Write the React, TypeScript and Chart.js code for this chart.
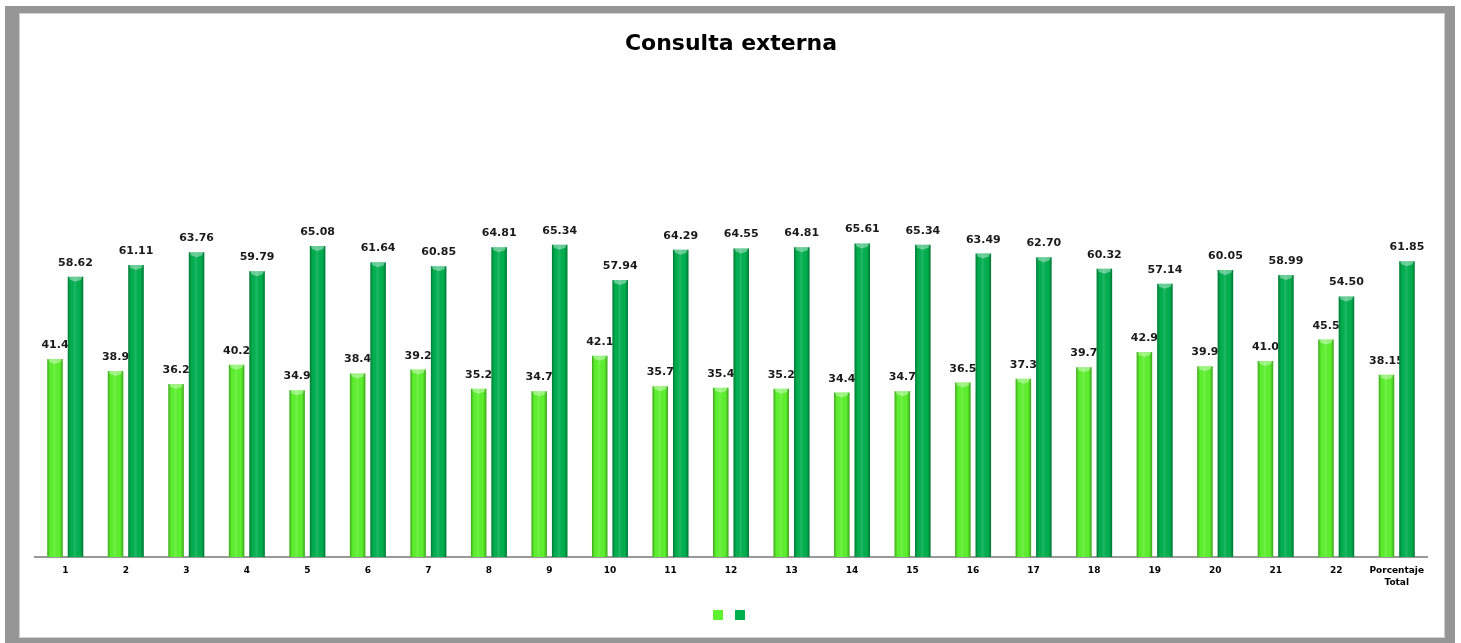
import React, { useEffect, useRef } from 'react';
import { Chart, registerables } from 'chart.js';

Chart.register(...registerables);

const titleText = 'Consulta externa';

const categories: (string | string[])[] = [
  '1', '2', '3', '4', '5', '6', '7', '8', '9', '10', '11', '12', '13', '14', '15',
  '16', '17', '18', '19', '20', '21', '22', ['Porcentaje', 'Total'],
];

const seriesLight = [
  41.4, 38.9, 36.2, 40.2, 34.9, 38.4, 39.2, 35.2, 34.7, 42.1, 35.7, 35.4,
  35.2, 34.4, 34.7, 36.5, 37.3, 39.7, 42.9, 39.9, 41.0, 45.5, 38.15,
];

const seriesDark = [
  58.62, 61.11, 63.76, 59.79, 65.08, 61.64, 60.85, 64.81, 65.34, 57.94, 64.29, 64.55,
  64.81, 65.61, 65.34, 63.49, 62.70, 60.32, 57.14, 60.05, 58.99, 54.50, 61.85,
];

const lightDecimals = [1, 1, 1, 1, 1, 1, 1, 1, 1, 1, 1, 1, 1, 1, 1, 1, 1, 1, 1, 1, 1, 1, 2];
const darkDecimals = [2, 2, 2, 2, 2, 2, 2, 2, 2, 2, 2, 2, 2, 2, 2, 2, 2, 2, 2, 2, 2, 2, 2];

const LIGHT = '#5df22d';
const DARK = '#00b04f';

function drawLabels(chart: any, dsIndex: number, decimals: number[]) {
  const ctx = chart.ctx;
  const meta = chart.getDatasetMeta(dsIndex);
  const values = chart.data.datasets[dsIndex].data as number[];
  ctx.save();
  ctx.font = 'bold 11px "DejaVu Sans"';
  ctx.fillStyle = '#1a1a1a';
  ctx.textAlign = 'center';
  ctx.textBaseline = 'alphabetic';
  meta.data.forEach((el: any, i: number) => {
    const { x, y } = el.getProps(['x', 'y'], true);
    ctx.fillText(values[i].toFixed(decimals[i]), x, y - 11);
  });
  ctx.restore();
}

const barLook = {
  id: 'barLook',
  afterDatasetDraw(chart: any, args: any) {
    const ctx = chart.ctx;
    args.meta.data.forEach((el: any) => {
      const { x, y, base, width } = el.getProps(['x', 'y', 'base', 'width'], true);
      const l = x - width / 2;
      const r = x + width / 2;
      const g = ctx.createLinearGradient(l, 0, r, 0);
      g.addColorStop(0, 'rgba(0,0,0,0.30)');
      g.addColorStop(0.2, 'rgba(0,0,0,0)');
      g.addColorStop(0.45, 'rgba(255,255,255,0.12)');
      g.addColorStop(0.78, 'rgba(0,0,0,0)');
      g.addColorStop(1, 'rgba(0,0,0,0.32)');
      ctx.save();
      ctx.fillStyle = g;
      ctx.fillRect(l, y, width, base - y);
      ctx.fillStyle = 'rgba(255,255,255,0.38)';
      ctx.beginPath();
      ctx.moveTo(l + 1, y);
      ctx.lineTo(r - 1, y);
      ctx.lineTo(r - 2, y + 3);
      ctx.lineTo(x, y + 5);
      ctx.lineTo(l + 2, y + 3);
      ctx.closePath();
      ctx.fill();
      ctx.restore();
    });
  },
  beforeDatasetsDraw(chart: any) {
    drawLabels(chart, 0, lightDecimals);
  },
  afterDatasetsDraw(chart: any) {
    drawLabels(chart, 1, darkDecimals);
  },
};

export default function App() {
  const ref = useRef<HTMLCanvasElement | null>(null);

  useEffect(() => {
    if (!ref.current) return;
    Chart.defaults.font.family = '"DejaVu Sans", sans-serif';
    const chart = new Chart(ref.current, {
      type: 'bar',
      data: {
        labels: categories,
        datasets: [
          {
            label: '',
            data: seriesLight,
            backgroundColor: LIGHT,
            borderWidth: 0,
            categoryPercentage: 0.677,
            barPercentage: 0.756,
          },
          {
            label: '',
            data: seriesDark,
            backgroundColor: DARK,
            borderWidth: 0,
            categoryPercentage: 0.677,
            barPercentage: 0.756,
          },
        ],
      },
      options: {
        animation: false,
        responsive: false,
        devicePixelRatio: 1,
        layout: { padding: { left: 16, right: 18, top: 18, bottom: 8 } },
        plugins: {
          title: {
            display: true,
            text: titleText,
            color: '#000',
            font: { size: 22, weight: 'bold' },
            padding: { top: 0, bottom: 21.6 },
          },
          legend: {
            display: true,
            position: 'bottom',
            labels: {
              boxWidth: 10,
              boxHeight: 10,
              padding: 8,
              font: { size: 8 },
            },
          },
          tooltip: { enabled: false },
        },
        scales: {
          x: {
            grid: { display: false, drawTicks: false },
            border: { display: true, color: '#999999', width: 2 },
            ticks: {
              color: '#000',
              font: { size: 9, weight: 'bold', lineHeight: 1.33 },
              padding: 8,
              maxRotation: 0,
              autoSkip: false,
            },
            afterFit: (scale: any) => {
              scale.height = 45;
            },
          },
          y: {
            display: false,
            min: 0,
            max: 100,
          },
        },
      },
      plugins: [barLook],
    });
    return () => chart.destroy();
  }, []);

  return (
    <div
      style={{
        position: 'fixed',
        left: 5,
        top: 6,
        width: 1450,
        height: 640,
        background: '#969696',
      }}
    >
      <div
        style={{
          position: 'absolute',
          left: 14,
          top: 7,
          width: 1426,
          height: 625,
          background: '#ffffff',
          boxShadow: 'inset 0 0 0 1px #d0d0d0',
        }}
      >
        <canvas ref={ref} width={1426} height={625} style={{ display: 'block' }} />
      </div>
    </div>
  );
}
